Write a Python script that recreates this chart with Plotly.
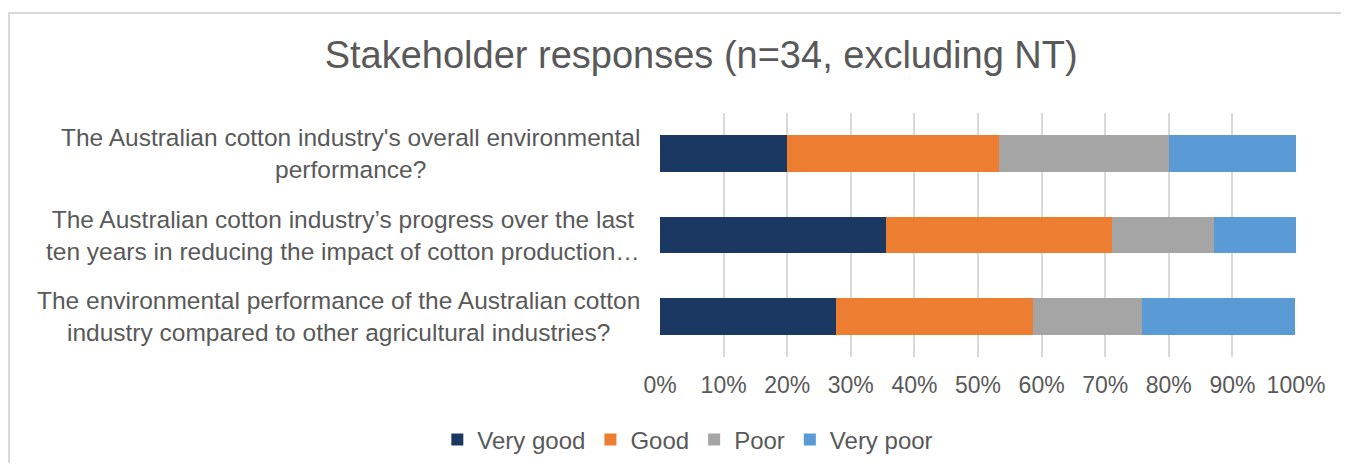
import plotly.graph_objects as go

questions = [
    "The Australian cotton industry's overall environmental<br>performance?",
    "The Australian cotton industry\u2019s progress over the last<br>ten years in reducing the impact of cotton production\u2026",
    "The environmental performance of the Australian cotton<br>industry compared to other agricultural industries?",
]
very_good = [0.200, 0.355, 0.276]
good = [0.333, 0.355, 0.310]
poor = [0.267, 0.161, 0.172]
very_poor = [0.200, 0.129, 0.241]

series = [
    ("Very good", very_good, "#1B3862"),
    ("Good", good, "#ED7D31"),
    ("Poor", poor, "#A5A5A5"),
    ("Very poor", very_poor, "#5B9BD5"),
]

ids = ["q1", "q2", "q3"]
text_col = "#595959"
font_name = "Liberation Sans, Arial, sans-serif"

fig = go.Figure()
for name, vals, col in series:
    fig.add_trace(go.Bar(x=vals, y=ids, name=name, orientation="h",
                         marker=dict(color=col, line=dict(width=0))))

for qid, q in zip(ids, questions):
    fig.add_annotation(x=0, xref="paper", y=qid, yref="y", text=q,
                       xanchor="right", align="center", showarrow=False,
                       xshift=-18, font=dict(size=24.5, color=text_col, family=font_name))

# chart frame
fig.add_shape(type="rect", xref="paper", yref="paper",
              x0=-1.0236, x1=1.3, y0=-1.0, y1=1.41,
              line=dict(color="#D9D9D9", width=2), layer="below")

# page body has an 8px margin, so the figure is kept small enough to avoid scrolling
fig.update_layout(
    barmode="stack",
    bargap=0.55,
    width=1333, height=455,
    margin=dict(l=652, r=45, t=105, b=106),
    paper_bgcolor="white", plot_bgcolor="white",
    font=dict(family=font_name, color=text_col, size=23),
    title=dict(text="Stakeholder responses (n=34, excluding NT)",
               x=0.52, xanchor="center", y=0.897, yanchor="middle",
               font=dict(size=38, color=text_col)),
    legend=dict(orientation="h", xref="container", x=0.51, xanchor="center",
                yref="container", y=0.051, yanchor="middle",
                font=dict(size=24, color=text_col), traceorder="normal",
                itemwidth=30),
    xaxis=dict(range=[0, 1], tickformat=".0%", dtick=0.1, showgrid=True,
               gridcolor="#D9D9D9", gridwidth=2, zeroline=False,
               ticklabelstandoff=12, tickfont=dict(size=23, color=text_col)),
    yaxis=dict(autorange="reversed", showticklabels=False, showgrid=False,
               zeroline=False),
)

fig.write_html("out.html")
